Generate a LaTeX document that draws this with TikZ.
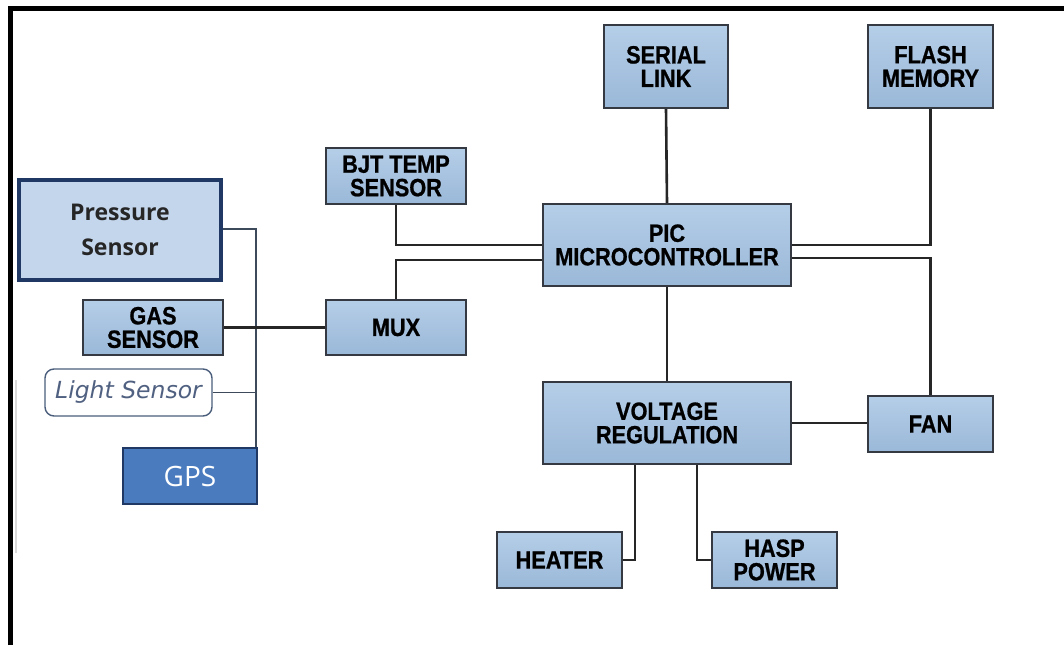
\documentclass[tikz,border=0pt]{standalone}
\usepackage{fontspec}
\setmainfont{Liberation Sans}
\newfontfamily\boxfont[FakeStretch=0.87, BoldFeatures={FakeBold=0.8}]{Liberation Sans}
\newfontfamily\osfont{Open Sans}
\newfontfamily\djfont{DejaVu Sans}
\usetikzlibrary{calc,positioning}
\definecolor{boxtop}{HTML}{B5CEE8}
\definecolor{boxbot}{HTML}{9AB8D8}
\definecolor{boxline}{HTML}{353A42}
\definecolor{navy}{HTML}{1F3864}
\definecolor{gpsfill}{HTML}{4A7BBF}
\definecolor{presfill}{HTML}{C4D6EC}
\definecolor{busline}{HTML}{3C4A5C}
\definecolor{lightline}{HTML}{4A5E7C}
\definecolor{lighttext}{HTML}{4F6080}
\tikzset{
  blk/.style={draw=boxline, line width=2.3pt, top color=boxtop, bottom color=boxbot,
    align=center, inner sep=0pt, font=\boxfont\bfseries\fontsize{25}{23.5}\selectfont},
  wire/.style={draw=black!85, line width=2.6pt},
  thinwire/.style={draw=busline, line width=1.8pt},
}
\begin{document}
\begin{tikzpicture}[x=1pt,y=-1pt]
\useasboundingbox (0,0) rectangle (1064,645);
\fill[white] (0,0) rectangle (1064,645);
% frame
\draw[line width=5pt] (10.5,645) -- (10.5,8.5) -- (1064,8.5);
\draw[black!15, line width=2pt] (15.5,380) -- (15.5,553);

% left sensors
\node[draw=navy, line width=3.8pt, fill=presfill, minimum width=202pt, minimum height=100pt,
  align=center, inner sep=0pt, text=black!85, font=\osfont\bfseries\fontsize{23}{35}\selectfont]
  (pres) at (120,230) {Pressure\\Sensor};
\node[blk, minimum width=140pt, minimum height=55pt] (gas) at (153,327.5) {GAS\\SENSOR};
\node[draw=lightline, line width=1.4pt, fill=white, rounded corners=9pt,
  minimum width=167pt, minimum height=47pt, inner sep=0pt, text=lighttext,
  font=\djfont\itshape\fontsize{23.5}{23.5}\selectfont] (light) at (128.5,392.5) {Light Sensor};
\node[draw=navy, line width=2.4pt, fill=gpsfill, minimum width=134pt, minimum height=56pt,
  inner sep=0pt, text=white, font=\osfont\fontsize{28}{28}\selectfont] (gps) at (190,476) {GPS};

\node[blk, minimum width=140pt, minimum height=56pt] (bjt) at (396,176) {BJT TEMP\\SENSOR};
\node[blk, minimum width=140pt, minimum height=55pt] (mux) at (396,327.5) {MUX};

\node[blk, minimum width=124pt, minimum height=83pt] (serial) at (666,66.5) {SERIAL\\LINK};
\node[blk, minimum width=125pt, minimum height=83pt] (flash) at (930.5,66.5) {FLASH\\MEMORY};
\node[blk, minimum width=248pt, minimum height=82pt] (pic) at (667,245) {PIC\\MICROCONTROLLER};
\node[blk, minimum width=248pt, minimum height=82pt] (vr) at (667,423) {VOLTAGE\\REGULATION};
\node[blk, minimum width=125pt, minimum height=56pt] (fan) at (930.5,424) {FAN};
\node[blk, minimum width=125pt, minimum height=56pt] (heater) at (559.5,560) {HEATER};
\node[blk, minimum width=125pt, minimum height=56pt] (hasp) at (774.5,560) {HASP\\POWER};

% sensor bus
\coordinate (b1) at (256,229);
\draw[thinwire] (pres.east |- b1) -- (b1) -- (b1 |- gps.north);
\draw[thinwire] (light.east) -- (light.east -| b1);
\draw[wire] (gas.east) -- (mux.west);

% microcontroller links
\draw[wire] (serial.south) -- (pic.north);
\draw[wire] (flash.south) |- (pic.east);
\coordinate (p2) at ($(pic.east)+(0,13)$);
\draw[wire] (p2) -| (fan.north);
\draw[wire] (bjt.south) |- (pic.west);
\coordinate (p3) at ($(pic.west)+(0,15)$);
\draw[wire] (mux.north) |- (p3);
\draw[wire] (pic.south) -- (vr.north);
\coordinate (v1) at (vr.east);
\draw[wire] (v1) -- (v1 -| fan.west);
\coordinate (v2) at ($(vr.south west)+(93,0)$);
\draw[wire] (v2) |- (heater.east);
\coordinate (v3) at ($(vr.south west)+(155,0)$);
\draw[wire] (v3) |- (hasp.west);
\end{tikzpicture}
\end{document}
